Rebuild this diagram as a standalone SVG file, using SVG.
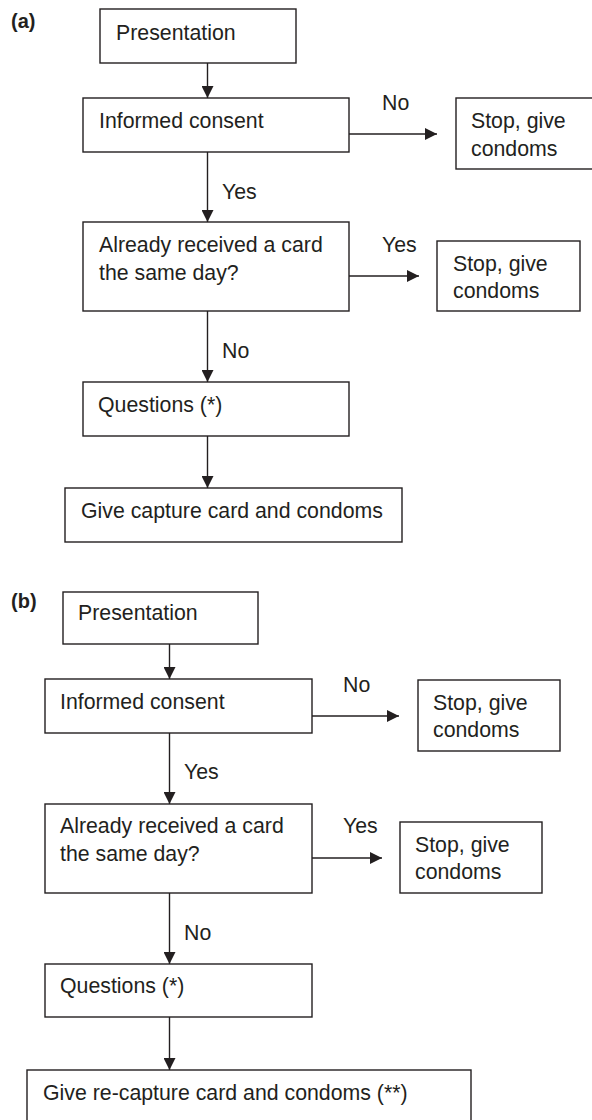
<svg xmlns="http://www.w3.org/2000/svg" width="592" height="1120" viewBox="0 0 592 1120">
<style>
.box{fill:#fff;stroke:#231f20;stroke-width:1.4}
.t{font-family:"Liberation Sans",Arial,sans-serif;font-size:21.3px;fill:#231f20}
.lbl{font-family:"Liberation Sans",Arial,sans-serif;font-size:20px;font-weight:bold;fill:#231f20}
.c{stroke:#231f20;stroke-width:1.4;fill:none;marker-end:url(#ah)}
</style>
<defs>
<marker id="ah" markerUnits="userSpaceOnUse" markerWidth="12" markerHeight="12" viewBox="0 0 12 12" refX="12" refY="6" orient="auto">
<path d="M0,0 L12,6 L0,12 Z" fill="#231f20"/>
</marker>
</defs>
<rect width="592" height="1120" fill="#fff"/>
<text class="lbl" x="11" y="28">(a)</text>
<text class="lbl" x="11" y="608">(b)</text>
<g id="connectors">
<line class="c" x1="207.5" y1="63" x2="207.5" y2="98"/>
<line class="c" x1="349" y1="134" x2="437" y2="134"/>
<line class="c" x1="207.5" y1="152" x2="207.5" y2="222"/>
<line class="c" x1="349" y1="276" x2="419" y2="276"/>
<line class="c" x1="207.5" y1="311" x2="207.5" y2="382"/>
<line class="c" x1="207.5" y1="436" x2="207.5" y2="488"/>
<line class="c" x1="169.5" y1="644" x2="169.5" y2="679"/>
<line class="c" x1="312" y1="716" x2="399" y2="716"/>
<line class="c" x1="169.5" y1="733" x2="169.5" y2="804"/>
<line class="c" x1="312" y1="858" x2="382" y2="858"/>
<line class="c" x1="169.5" y1="893" x2="169.5" y2="964"/>
<line class="c" x1="169.5" y1="1017" x2="169.5" y2="1070"/>
<text class="t" x="382" y="110">No</text>
<text class="t" x="222" y="199">Yes</text>
<text class="t" x="382" y="252">Yes</text>
<text class="t" x="222" y="358">No</text>
<text class="t" x="343" y="692">No</text>
<text class="t" x="184" y="779">Yes</text>
<text class="t" x="343" y="833">Yes</text>
<text class="t" x="184" y="940">No</text>
</g>
<g id="a-presentation"><rect class="box" x="100" y="9" width="196" height="54"/><text class="t" x="116" y="40">Presentation</text></g>
<g id="a-consent"><rect class="box" x="83" y="98" width="266" height="54"/><text class="t" x="99" y="128">Informed consent</text></g>
<g id="a-stop1"><rect class="box" x="456" y="98" width="140" height="71"/><text class="t" x="471" y="128">Stop, give</text><text class="t" x="471" y="156">condoms</text></g>
<g id="a-already"><rect class="box" x="83" y="222" width="266" height="89"/><text class="t" x="99" y="252">Already received a card</text><text class="t" x="99" y="280">the same day?</text></g>
<g id="a-stop2"><rect class="box" x="437" y="241" width="143" height="70"/><text class="t" x="453" y="271">Stop, give</text><text class="t" x="453" y="298">condoms</text></g>
<g id="a-questions"><rect class="box" x="83" y="382" width="266" height="54"/><text class="t" x="98" y="412">Questions (*)</text></g>
<g id="a-give"><rect class="box" x="65" y="488" width="337" height="54"/><text class="t" x="81" y="518">Give capture card and condoms</text></g>
<g id="b-presentation"><rect class="box" x="63" y="592" width="195" height="52"/><text class="t" x="78" y="620">Presentation</text></g>
<g id="b-consent"><rect class="box" x="45" y="679" width="267" height="54"/><text class="t" x="60" y="709">Informed consent</text></g>
<g id="b-stop1"><rect class="box" x="418" y="680" width="142" height="71"/><text class="t" x="433" y="710">Stop, give</text><text class="t" x="433" y="737">condoms</text></g>
<g id="b-already"><rect class="box" x="45" y="804" width="267" height="89"/><text class="t" x="60" y="833">Already received a card</text><text class="t" x="60" y="861">the same day?</text></g>
<g id="b-stop2"><rect class="box" x="400" y="822" width="142" height="71"/><text class="t" x="415" y="852">Stop, give</text><text class="t" x="415" y="879">condoms</text></g>
<g id="b-questions"><rect class="box" x="45" y="964" width="267" height="53"/><text class="t" x="60" y="993">Questions (*)</text></g>
<g id="b-give"><rect class="box" x="27" y="1070" width="444" height="60"/><text class="t" x="43" y="1100">Give re-capture card and condoms (**)</text></g>
</svg>
